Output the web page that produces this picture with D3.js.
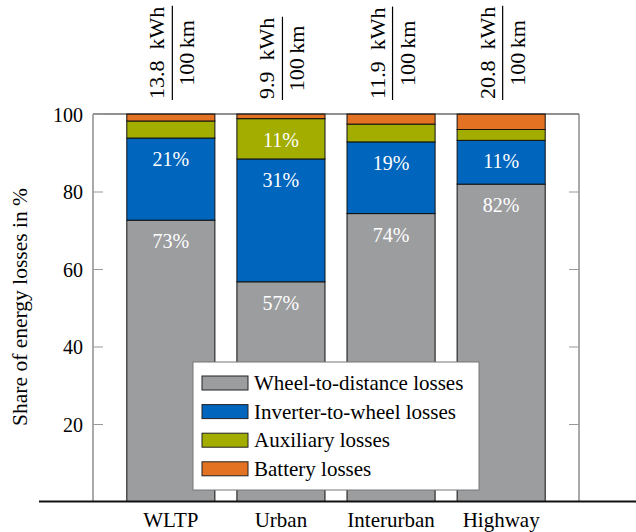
<!DOCTYPE html>
<html>
<head>
<meta charset="utf-8">
<script src="https://cdn.jsdelivr.net/npm/d3@7/dist/d3.min.js"></script>
<style>
  html, body { margin: 0; padding: 0; background: #fff; }
  svg, svg text { font-family: 'Liberation Serif', 'Times New Roman', 'DejaVu Serif', serif; }
</style>
</head>
<body>
<svg id="chart" width="636" height="532"></svg>
<script>
// ---- data ----
const categories = ["WLTP", "Urban", "Interurban", "Highway"];
const consumption = ["13.8", "9.9", "11.9", "20.8"];
const seriesNames = ["Wheel-to-distance losses", "Inverter-to-wheel losses", "Auxiliary losses", "Battery losses"];
const wheelLosses = [72.6, 56.7, 74.3, 81.9];
const inverterLosses = [21.2, 31.7, 18.5, 11.3];
const auxiliaryLosses = [4.4, 10.4, 4.6, 2.8];
const batteryLosses = [1.8, 1.2, 2.6, 4.0];
const wheelLabels = ["73%", "57%", "74%", "82%"];
const inverterLabels = ["21%", "31%", "19%", "11%"];
const auxiliaryLabels = ["", "11%", "", ""];
const batteryLabels = ["", "", "", ""];
const yTicks = [20, 40, 60, 80, 100];
const colors = ["#9c9d9f", "#0065bd", "#a2ad00", "#e37222"];

const series = [wheelLosses, inverterLosses, auxiliaryLosses, batteryLosses];
const seriesLabels = [wheelLabels, inverterLabels, auxiliaryLabels, batteryLabels];

// ---- layout ----
const FONT = "'Liberation Serif', 'Times New Roman', serif";
const pLeft = 93, pRight = 579, pTop = 114, pBottom = 501.5;
const svg = d3.select("#chart").attr("font-family", FONT);

const x = d3.scaleLinear().domain([-0.707, 3.707]).range([pLeft, pRight]);
const y = d3.scaleLinear().domain([0, 100]).range([pBottom, pTop]);
const barHalf = (x(1) - x(0)) * 0.4;

// stacked table
const rows = categories.map((c, i) => {
  const r = { cat: c, i };
  seriesNames.forEach((s, k) => r[s] = series[k][i]);
  return r;
});
const stacked = d3.stack().keys(seriesNames)(rows);

// bars
stacked.forEach((layer, k) => {
  svg.append("g").selectAll("rect").data(layer).join("rect")
    .attr("x", (d, i) => x(i) - barHalf)
    .attr("width", barHalf * 2)
    .attr("y", d => y(d[1]))
    .attr("height", d => y(d[0]) - y(d[1]))
    .attr("fill", colors[k])
    .attr("stroke", "#111")
    .attr("stroke-width", 1);
  svg.append("g").selectAll("text").data(layer).join("text")
    .attr("x", (d, i) => x(i))
    .attr("y", d => y(d[1]) + 28)
    .attr("text-anchor", "middle")
    .attr("fill", "#fff")
    .attr("font-family", FONT)
    .attr("font-size", 20)
    .text((d, i) => seriesLabels[k][i]);
});

// frame
svg.append("line").attr("x1", pLeft).attr("x2", pRight).attr("y1", pTop).attr("y2", pTop)
  .attr("stroke", "#222").attr("stroke-width", 1);
[pLeft, pRight].forEach(xx => svg.append("line").attr("x1", xx).attr("x2", xx)
  .attr("y1", pTop).attr("y2", pBottom).attr("stroke", "#555").attr("stroke-width", 1));

// y axis (left) with inward ticks
const yAxisL = svg.append("g").attr("transform", `translate(${pLeft},0)`)
  .call(d3.axisLeft(y).tickValues(yTicks).tickSize(-10).tickPadding(10).tickFormat(d3.format("d")));
yAxisL.attr("font-family", FONT);
yAxisL.select(".domain").remove();
yAxisL.selectAll(".tick line").attr("stroke", "#999");
yAxisL.selectAll(".tick text").attr("font-size", 20).attr("fill", "#000")
  .attr("font-family", FONT).attr("dy", "0.35em");
const yAxisR = svg.append("g").attr("transform", `translate(${pRight},0)`)
  .call(d3.axisRight(y).tickValues(yTicks.filter(t => t < 100)).tickSize(-10).tickFormat(""));
yAxisR.select(".domain").remove();
yAxisR.selectAll(".tick line").attr("stroke", "#999");

// x axis baseline
svg.append("line").attr("x1", 39).attr("x2", 636).attr("y1", pBottom).attr("y2", pBottom)
  .attr("stroke", "#111").attr("stroke-width", 2);

// category labels
svg.append("g").selectAll("text").data(categories).join("text")
  .attr("x", (d, i) => x(i))
  .attr("y", 527)
  .attr("text-anchor", "middle")
  .attr("font-family", FONT)
  .attr("font-size", 21)
  .text(d => d);

// y label
svg.append("text")
  .attr("transform", `translate(27,307) rotate(-90)`)
  .attr("text-anchor", "middle")
  .attr("font-family", FONT)
  .attr("font-size", 21.5)
  .text("Share of energy losses in %");

// consumption fractions above bars
consumption.forEach((v, i) => {
  const g = svg.append("g").attr("transform", `translate(${x(i) + 1.5},100) rotate(-90)`);
  const num = g.append("text").attr("font-family", FONT).attr("font-size", 22).attr("y", -8)
    .attr("text-anchor", "middle").text(v + "\u2002kWh");
  const den = g.append("text").attr("font-family", FONT).attr("font-size", 22).attr("y", 22)
    .attr("text-anchor", "middle").text("100\u2009km");
  const w = Math.max(num.node().getComputedTextLength(), den.node().getComputedTextLength()) + 2;
  num.attr("x", w / 2);
  den.attr("x", w / 2);
  g.append("line").attr("x1", 0).attr("x2", w).attr("y1", 0).attr("y2", 0)
    .attr("stroke", "#000").attr("stroke-width", 1.2);
});

// legend
const lg = svg.append("g");
lg.append("rect").attr("x", 193).attr("y", 362).attr("width", 286).attr("height", 128)
  .attr("fill", "#fff").attr("stroke", "#777").attr("stroke-width", 1);
seriesNames.forEach((s, k) => {
  const yy = 376 + k * 28.6;
  lg.append("rect").attr("x", 202).attr("y", yy).attr("width", 46).attr("height", 14)
    .attr("fill", colors[k]).attr("stroke", "#222").attr("stroke-width", 1);
  lg.append("text").attr("x", 254).attr("y", yy + 14).attr("font-family", FONT)
    .attr("font-size", 21).text(s);
});
</script>
</body>
</html>
